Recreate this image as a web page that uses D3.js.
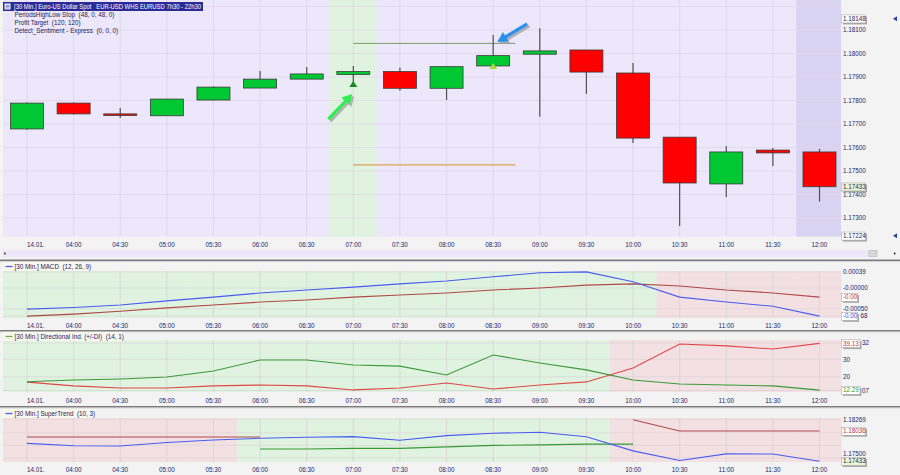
<!DOCTYPE html>
<html><head><meta charset="utf-8">
<script src="https://cdn.jsdelivr.net/npm/d3@7"></script>
<style>
html,body{margin:0;padding:0;background:#f3f3f3;}
svg{display:block;font-family:"Liberation Sans",Arial,sans-serif;}
</style></head><body>
<svg id="c" width="900" height="475"></svg>
<script>
// ---------------- DATA ----------------
const times = ["03:30","04:00","04:30","05:00","05:30","06:00","06:30","07:00","07:30","08:00","08:30","09:00","09:30","10:00","10:30","11:00","11:30","12:00"];
const tickLabels = ["14.01.","04:00","04:30","05:00","05:30","06:00","06:30","07:00","07:30","08:00","08:30","09:00","09:30","10:00","10:30","11:00","11:30","12:00"];
const openP  = [1.17679,1.17789,1.17743,1.17735,1.17802,1.17853,1.17891,1.17911,1.17923,1.17852,1.17947,1.17997,1.18015,1.17917,1.17644,1.17445,1.17589,1.17581];
const highP  = [1.17792,1.17792,1.17768,1.17806,1.17860,1.17926,1.17943,1.17947,1.17940,1.17944,1.18079,1.18107,1.18015,1.17960,1.17644,1.17606,1.17598,1.17594];
const lowP   = [1.17676,1.17740,1.17726,1.17735,1.17800,1.17853,1.17891,1.17870,1.17842,1.17802,1.17947,1.17731,1.17828,1.17619,1.17266,1.17389,1.17521,1.17370];
const closeP = [1.17789,1.17743,1.17738,1.17806,1.17857,1.17891,1.17913,1.17923,1.17852,1.17944,1.17991,1.18011,1.17921,1.17640,1.17449,1.17581,1.17577,1.17433];
const priceTicks = [1.173,1.174,1.175,1.176,1.177,1.178,1.179,1.180,1.181];
const priceHigh = 1.18148, priceLow = 1.17224;
const signalBar = 7, entryBar = 10;
const profitTarget = 1.18043, stopLevel = 1.17526, levelEndBar = 10;

const macdLine   = [-0.00051,-0.00047,-0.00041,-0.00031,-0.00022,-0.00012,-0.00005,0.00002,0.00010,0.00017,0.00027,0.00037,0.00039,0.00015,-0.00022,-0.00034,-0.00044,-0.00068];
const macdSignal = [-0.00068,-0.00063,-0.00056,-0.00048,-0.00041,-0.00034,-0.00029,-0.00022,-0.00017,-0.00012,-0.00005,0.00000,0.00007,0.00010,0.00005,-0.00005,-0.00012,-0.00022];
const macdTicks = [0.00039,0,-0.0005];
const macdTickLabels = ["0.00039","-0.00000","-0.00050"];

const plusDI  = [17.1,18.1,18.7,19.8,23.3,29.6,29.6,26.7,26.1,21.0,32.5,27.9,23.9,18.1,15.8,15.2,14.7,12.29];
const minusDI = [16.9,14.7,13.5,13.5,14.7,15.2,14.7,12.4,13.5,16.4,12.9,15.2,17.0,25.0,38.8,37.7,35.9,39.13];
const diTicks = [30,20];
const diMax = 39.32, diMin = 12.07;

const stDown = [1.17916,1.17916,1.17916,1.17916,1.17916,1.17916,null,null,null,null,null,null,null,1.18261,1.18036,1.18036,1.18036,1.18036];
const stUp   = [null,null,null,null,null,1.17677,1.17677,1.17690,1.17690,1.17720,1.17750,1.17760,1.17775,1.17775,null,null,null,null];
const stTrend = [-1,-1,-1,-1,-1,1,1,1,1,1,1,1,1,-1,-1,-1,-1,-1];
const stTicks = [1.18269,1.175];

// ---------------- LAYOUT ----------------
const W = 900, H = 475, PL = 3, PR = 841;
const navy = "#23236b";
const fs = 6.3;
const svg = d3.select("#c");
svg.append("rect").attr("width", W).attr("height", H).attr("fill", "#f3f3f3");

const x = d3.scalePoint().domain(times).range([27, 819.5]);
const step = x.step();
const colL = i => i === 0 ? PL : x(times[i]) - step / 2;
const colR = i => i === times.length - 1 ? PR : x(times[i]) + step / 2;

function xAxisLabels(yBase) {
  const g = svg.append("g");
  tickLabels.forEach((t, i) => {
    g.append("text").attr("x", x(times[i]))
      .attr("y", yBase).attr("text-anchor", i === 0 ? "start" : "middle")
      .attr("font-size", fs).attr("fill", navy).text(t);
  });
}
function vGrid(g, top, bot, color) {
  times.forEach(t => g.append("line").attr("x1", x(t)).attr("x2", x(t)).attr("y1", top).attr("y2", bot)
    .attr("stroke", color).attr("stroke-width", 0.8));
}
function valueBox(yc, txt, color, fill, w) {
  svg.append("rect").attr("x", 843).attr("y", yc - 3.8 + 1.5).attr("width", w).attr("height", 8).attr("fill", "#a8a8a8");
  svg.append("rect").attr("x", 841.5).attr("y", yc - 3.8).attr("width", w).attr("height", 8).attr("fill", fill)
    .attr("stroke", "#a0a0a0").attr("stroke-width", 0.5);
  svg.append("text").attr("x", 843).attr("y", yc + 2.2).attr("font-size", fs).attr("fill", color).text(txt);
}
function rightLabel(yc, txt, color, xx) {
  svg.append("text").attr("x", xx || 843).attr("y", yc + 2.2).attr("font-size", fs).attr("fill", color || navy).text(txt);
}
function separator(y) {
  svg.append("rect").attr("x", 0).attr("y", y).attr("width", W).attr("height", 1.6).attr("fill", "#7d7d7d");
  svg.append("rect").attr("x", 0).attr("y", y + 1.6).attr("width", W).attr("height", 0.8).attr("fill", "#d0d0d0");
}
function header(y, txt, color, w) {
  svg.append("rect").attr("x", PL).attr("y", y - 4.5).attr("width", w).attr("height", 9).attr("fill", "#f7f7ec");
  svg.append("line").attr("x1", 5.5).attr("x2", 12.5).attr("y1", y).attr("y2", y).attr("stroke", color).attr("stroke-width", 1.3);
  svg.append("text").attr("x", 14.5).attr("y", y + 2.2).attr("font-size", fs).attr("fill", navy).style("white-space", "pre").text(txt);
}

// ---------------- MAIN PANEL ----------------
const mTop = 0, mBot = 236.5;
const y = d3.scaleLinear().domain([1.173, 1.181]).range([218, 30]);
const gm = svg.append("g");
gm.append("rect").attr("x", PL).attr("y", mTop).attr("width", PR - PL).attr("height", mBot - mTop).attr("fill", "#ece7fa");
gm.append("rect").attr("x", colL(signalBar)).attr("y", mTop).attr("width", colR(signalBar) - colL(signalBar)).attr("height", mBot - mTop).attr("fill", "#e0f3e0");
const lastI = times.length - 1;
gm.append("rect").attr("x", colL(lastI)).attr("y", mTop).attr("width", colR(lastI) - colL(lastI)).attr("height", mBot - mTop).attr("fill", "#d9d3f2");
vGrid(gm, mTop, mBot, "#dad4e8");
d3.range(1.172, 1.1825, 0.001).forEach(v => {
  const yy = y(v);
  if (yy > mTop && yy < mBot) gm.append("line").attr("x1", PL).attr("x2", PR).attr("y1", yy).attr("y2", yy).attr("stroke", "#e3d7ea").attr("stroke-width", 0.8);
});

// level lines
gm.append("line").attr("x1", x(times[signalBar])).attr("x2", x(times[levelEndBar]) + step / 2 - 1)
  .attr("y1", y(profitTarget)).attr("y2", y(profitTarget)).attr("stroke", "#7d9b6d").attr("stroke-width", 1);
gm.append("line").attr("x1", x(times[signalBar])).attr("x2", x(times[levelEndBar]) + step / 2 - 1)
  .attr("y1", y(stopLevel)).attr("y2", y(stopLevel)).attr("stroke", "#e0a050").attr("stroke-width", 1.2);

// candles
const bw = 33;
times.forEach((t, i) => {
  const cx = x(t);
  gm.append("line").attr("x1", cx).attr("x2", cx).attr("y1", y(highP[i])).attr("y2", y(lowP[i]))
    .attr("stroke", "#505050").attr("stroke-width", 1.2);
  const up = closeP[i] >= openP[i];
  const top = y(Math.max(openP[i], closeP[i])), bot = y(Math.min(openP[i], closeP[i]));
  gm.append("rect").attr("x", cx - bw / 2).attr("y", top).attr("width", bw).attr("height", Math.max(bot - top, 1.5))
    .attr("fill", up ? "#00c832" : "#ff0000").attr("stroke", "#3a3a3a").attr("stroke-width", 0.8);
});

// signal triangles
function tri(i, color) {
  const cx = x(times[i]), ty = y(lowP[i]);
  gm.append("path").attr("d", `M${cx - 4},${ty + 3}L${cx + 4},${ty + 3}L${cx},${ty - 3}Z`).attr("fill", color);
}
tri(signalBar, "#168a2a");
tri(entryBar, "#a8d838");

// arrows
function arrow(tx, ty, sx, sy, color) {
  const ang = Math.atan2(ty - sy, tx - sx), hl = 10, hw = 5.5, sw = 1.6;
  const bx = tx - hl * Math.cos(ang), by = ty - hl * Math.sin(ang);
  const nx = -Math.sin(ang), ny = Math.cos(ang);
  const pts = [[sx + nx * sw, sy + ny * sw], [bx + nx * sw, by + ny * sw], [bx + nx * hw, by + ny * hw], [tx, ty],
    [bx - nx * hw, by - ny * hw], [bx - nx * sw, by - ny * sw], [sx - nx * sw, sy - ny * sw]];
  gm.append("polygon").attr("points", pts.map(p => [p[0] + 2, p[1] + 2]).join(" ")).attr("fill", "#9a9a9a").attr("opacity", 0.7);
  gm.append("polygon").attr("points", pts.join(" ")).attr("fill", color);
}
arrow(x(times[signalBar]) - 1, y(lowP[signalBar]) + 10, x(times[signalBar]) - 25, y(lowP[signalBar]) + 35, "#30ee50");
arrow(x(times[entryBar]) + 4, y(highP[entryBar]) + 7, x(times[entryBar]) + 34, y(highP[entryBar]) - 11, "#2a90ea");

// legend
gm.append("rect").attr("x", 3).attr("y", 2).attr("width", 200).attr("height", 9).attr("fill", "#2b2b96");
gm.append("rect").attr("x", 4.5).attr("y", 3.5).attr("width", 6).attr("height", 6).attr("fill", "#ffffff");
gm.append("path").attr("d", "M5.5,5.2h4M5.5,6.6h4M5.5,8h4").attr("stroke", "#2b2b96").attr("stroke-width", 0.6);
gm.append("text").attr("x", 14).attr("y", 8.9).attr("font-size", fs).attr("fill", "#ffffff")
  .attr("textLength", 187).attr("lengthAdjust", "spacingAndGlyphs").style("white-space", "pre")
  .text("[30 Min.] Euro-US Dollar Spot   EUR-USD WHS EURUSD 7h30 - 22h30");
["PeriodsHighLow Stop  (48, 0, 48, 0)", "Profit Target  (120, 120)", "Detect_Sentiment - Express  (0, 0, 0)"].forEach((t, i) => {
  gm.append("text").attr("x", 14.5).attr("y", 17.3 + i * 7.6).attr("font-size", fs).attr("fill", "#1e1e50").style("white-space", "pre").text(t);
});

// right labels main
priceTicks.forEach(v => rightLabel(y(v), v.toFixed(5)));
valueBox(y(priceHigh), priceHigh.toFixed(5), navy, "#ffffff", 24);
valueBox(y(closeP[lastI]), closeP[lastI].toFixed(5), navy, "#eef6d6", 24);
valueBox(y(priceLow), priceLow.toFixed(5), navy, "#ffffff", 24);
svg.append("path").attr("d", `M893,${y(priceHigh)}l4,-2.5v5z`).attr("fill", "#2a40b0");
svg.append("path").attr("d", `M893,${y(priceLow)}l4,-2.5v5z`).attr("fill", "#2a40b0");

xAxisLabels(246.5);
// scrollbar strip
svg.append("rect").attr("x", PL).attr("y", 250).attr("width", 866).attr("height", 7).attr("fill", "#ece7fa");
svg.append("rect").attr("x", 869).attr("y", 250.5).attr("width", 8).attr("height", 6).attr("fill", "#d8d8d8").attr("stroke", "#aaa").attr("stroke-width", 0.5);
svg.append("path").attr("d", "M3.5,253.5l2,-1.5v3z").attr("fill", "#333");
svg.append("path").attr("d", "M896,253.5l-2,-1.5v3z").attr("fill", "#333");
separator(259.5);

// ---------------- MACD PANEL ----------------
const aTop = 271, aBot = 318;
const ym = d3.scaleLinear().domain([-0.0005, 0]).range([308.7, 288]);
const ga = svg.append("g");
times.forEach((t, i) => {
  ga.append("rect").attr("x", colL(i)).attr("y", aTop).attr("width", colR(i) - colL(i) + 0.5).attr("height", aBot - aTop)
    .attr("fill", macdLine[i] >= macdSignal[i] ? "#e0f3e0" : "#f3e0e2");
});
vGrid(ga, aTop, aBot, "#cfd8cf");
[0.00039, 0, -0.0005, -0.00068].forEach(v => ga.append("line").attr("x1", PL).attr("x2", PR).attr("y1", ym(v)).attr("y2", ym(v)).attr("stroke", "#d6d0d6").attr("stroke-width", 0.6));
const lm = d3.line().x((d, i) => x(times[i])).y(d => ym(d));
ga.append("path").datum(macdSignal).attr("d", lm).attr("fill", "none").attr("stroke", "#b04a48").attr("stroke-width", 1.1);
ga.append("path").datum(macdLine).attr("d", lm).attr("fill", "none").attr("stroke", "#4a5cf0").attr("stroke-width", 1.1);
header(266.5, "[30 Min.] MACD  (12, 26, 9)", "#4a5cf0", 84);
macdTicks.forEach((v, i) => rightLabel(ym(v), macdTickLabels[i]));
valueBox(ym(macdSignal[lastI]), "-0.00", "#c03030", "#ffffff", 16);
valueBox(ym(macdLine[lastI]), "-0.00", "#3a48e0", "#ffffff", 16);
rightLabel(ym(-0.00068), "68", navy, 860.5);
xAxisLabels(327.5);
separator(330);

// ---------------- DI PANEL ----------------
const dTop = 340, dBot = 392;
const yd = d3.scaleLinear().domain([20, 30]).range([376.7, 359.3]);
const gd = svg.append("g");
times.forEach((t, i) => {
  gd.append("rect").attr("x", colL(i)).attr("y", dTop).attr("width", colR(i) - colL(i) + 0.5).attr("height", dBot - dTop)
    .attr("fill", plusDI[i] >= minusDI[i] ? "#e0f3e0" : "#f3e0e2");
});
vGrid(gd, dTop, dBot, "#cfd8cf");
[diMax, 30, 20, diMin].forEach(v => gd.append("line").attr("x1", PL).attr("x2", PR).attr("y1", yd(v)).attr("y2", yd(v)).attr("stroke", "#d6d0d6").attr("stroke-width", 0.6));
const ld = d3.line().x((d, i) => x(times[i])).y(d => yd(d));
gd.append("path").datum(minusDI).attr("d", ld).attr("fill", "none").attr("stroke", "#e04848").attr("stroke-width", 1.1);
gd.append("path").datum(plusDI).attr("d", ld).attr("fill", "none").attr("stroke", "#3a9a3a").attr("stroke-width", 1.1);
header(336.5, "[30 Min.] Directional Ind. (+/-DI)  (14, 1)", "#7aaa5a", 119);
diTicks.forEach(v => rightLabel(yd(v), String(v)));
valueBox(yd(minusDI[lastI]), minusDI[lastI].toFixed(2), "#d03030", "#ffffff", 18.5);
valueBox(yd(plusDI[lastI]), plusDI[lastI].toFixed(2), "#2a9a2a", "#ffffff", 18.5);
rightLabel(yd(diMax), diMax.toFixed(2).slice(-2), navy, 862);
rightLabel(yd(diMin), diMin.toFixed(2).slice(-2), navy, 862);
xAxisLabels(403);
separator(406);

// ---------------- SUPERTREND PANEL ----------------
const sTop = 418, sBot = 462;
const ys = d3.scaleLinear().domain([1.18036, 1.18269]).range([431, 419.3]);
const gs = svg.append("g");
times.forEach((t, i) => {
  gs.append("rect").attr("x", colL(i)).attr("y", sTop).attr("width", colR(i) - colL(i) + 0.5).attr("height", sBot - sTop)
    .attr("fill", stTrend[i] > 0 ? "#e0f3e0" : "#f3e0e2");
});
vGrid(gs, sTop, sBot, "#dccfd2");
[1.18269, 1.18, 1.1775, 1.175].forEach(v => gs.append("line").attr("x1", PL).attr("x2", PR).attr("y1", ys(v)).attr("y2", ys(v)).attr("stroke", "#ddd0d4").attr("stroke-width", 0.6));
const ls = d3.line().defined(d => d !== null).x((d, i) => x(times[i])).y(d => ys(d));
gs.append("path").datum(stDown).attr("d", ls).attr("fill", "none").attr("stroke", "#b04a48").attr("stroke-width", 1.1);
gs.append("path").datum(stUp).attr("d", ls).attr("fill", "none").attr("stroke", "#3a9a3a").attr("stroke-width", 1.1);
gs.append("path").datum(closeP).attr("d", ls).attr("fill", "none").attr("stroke", "#4a5cf0").attr("stroke-width", 1.1);
header(413.5, "[30 Min.] SuperTrend  (10, 3)", "#4a5cf0", 88);
rightLabel(ys(stTicks[0]), stTicks[0].toFixed(5));
rightLabel(ys(closeP[lastI]) - 7.5, stTicks[1].toFixed(5));
valueBox(ys(stDown[lastI]), stDown[lastI].toFixed(5), "#c03030", "#ffffff", 24);
valueBox(ys(closeP[lastI]), closeP[lastI].toFixed(5), navy, "#eef6d6", 24);
xAxisLabels(472);
</script>
</body></html>
